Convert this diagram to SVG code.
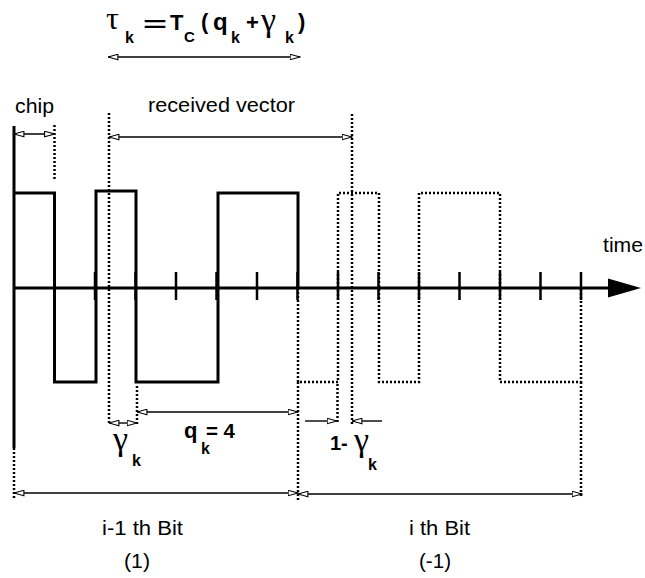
<svg xmlns="http://www.w3.org/2000/svg" width="645" height="578" viewBox="0 0 645 578">
<style>
.wave{fill:none;stroke:#000;stroke-width:3;stroke-linejoin:miter}
.dot{fill:none;stroke:#000;stroke-width:2.5;stroke-dasharray:2 2}
.arr{fill:none;stroke:#000;stroke-width:1.4;marker-start:url(#ah);marker-end:url(#ah)}
.arr1{fill:none;stroke:#000;stroke-width:1.4;marker-end:url(#ah)}
.t{font-family:"Liberation Sans",Arial,sans-serif;font-size:20px;fill:#000}
.b{font-family:"Liberation Sans",Arial,sans-serif;font-weight:bold;fill:#000}
.g{font-family:"Liberation Serif","Times New Roman",serif;fill:#000}
</style>
<defs>
<marker id="ah" viewBox="0 0 11 7" markerWidth="11" markerHeight="7" refX="10.5" refY="3.5" orient="auto-start-reverse" markerUnits="userSpaceOnUse">
<path d="M0.6,0.8 L10.5,3.5 L0.6,6.2 z" fill="#fff" stroke="#000" stroke-width="1.1"/>
</marker>
</defs>

<g id="title">
<text class="g" x="106" y="29" font-size="32">τ</text>
<text class="b" x="125" y="43" font-size="16">k</text>
<text class="b" x="143" y="31" font-size="21" textLength="24" lengthAdjust="spacingAndGlyphs">=</text>
<text class="b" x="170" y="30" font-size="22">T</text>
<text class="b" x="184" y="42" font-size="15">C</text>
<text class="b" x="201" y="29" font-size="22">(</text>
<text class="b" x="213" y="30" font-size="24">q</text>
<text class="b" x="231" y="43" font-size="16">k</text>
<text class="b" x="246" y="30" font-size="22">+</text>
<text class="g" x="261" y="31" font-size="34">γ</text>
<text class="b" x="285" y="43" font-size="16">k</text>
<text class="b" x="298" y="29" font-size="22">)</text>
</g>

<g id="labels">
<text class="t" x="15" y="112.5" textLength="39" lengthAdjust="spacingAndGlyphs">chip</text>
<text class="t" x="148" y="112" textLength="147" lengthAdjust="spacingAndGlyphs">received vector</text>
<text class="t" x="603" y="251.5" textLength="40" lengthAdjust="spacingAndGlyphs">time</text>
<text class="t" x="102" y="535" textLength="81" lengthAdjust="spacingAndGlyphs">i-1 th Bit</text>
<text class="t" x="124" y="568" textLength="26" lengthAdjust="spacingAndGlyphs">(1)</text>
<text class="t" x="409" y="535" textLength="61" lengthAdjust="spacingAndGlyphs">i th Bit</text>
<text class="t" x="419" y="568" textLength="32" lengthAdjust="spacingAndGlyphs">(-1)</text>
<text class="g" x="113" y="450" font-size="34">γ</text>
<text class="b" x="132" y="466" font-size="16">k</text>
<text class="b" x="184" y="438" font-size="22">q</text>
<text class="b" x="201" y="454" font-size="16">k</text>
<text class="b" x="206" y="438" font-size="21" textLength="29" lengthAdjust="spacingAndGlyphs">= 4</text>
<text class="b" x="330" y="450" font-size="20">1-</text>
<text class="g" x="354" y="451" font-size="34">γ</text>
<text class="b" x="368" y="470" font-size="16">k</text>
</g>

<g id="axis">
<line x1="14" y1="288" x2="612" y2="288" stroke="#000" stroke-width="3"/>
<polygon points="608,278.5 641,288 608,297.5" fill="#000"/>
<path d="M54.5,272V300 M95,272V300 M135.5,272V300 M176,272V300 M216.5,272V300 M257,272V300 M297.5,272V300 M338,272V300 M378.5,272V300 M419,272V300 M459.5,272V300 M500,272V300 M540.5,272V300 M581,272V300" stroke="#000" stroke-width="2.5"/>
</g>

<g id="waveform-prev">
<line x1="14" y1="126" x2="14" y2="448" stroke="#000" stroke-width="3"/>
<path class="wave" d="M14,193 H54.5 V382 H96 V191 H136 V382 H218 V193 H298 V288"/>
</g>

<g id="waveform-curr">
<path class="dot" d="M298,288 V382 H338 V193 H379 V382 H419 V193 H500 V382 H581 V288"/>
</g>

<g id="guides">
<path class="dot" d="M14,448 V500 M54.5,125 V181 M109,113 V424 M352,114 V424 M137,386 V424 M337.5,384 V422 M298,382 V500 M581,382 V498"/>
</g>

<g id="connectors">
<line class="arr" x1="108" y1="57" x2="300" y2="57"/>
<line class="arr" x1="14" y1="134" x2="54.5" y2="134"/>
<line class="arr" x1="109" y1="137" x2="352" y2="137"/>
<line class="arr" x1="109" y1="423" x2="137" y2="423"/>
<line class="arr" x1="137" y1="412" x2="298" y2="412"/>
<line class="arr1" x1="305" y1="421" x2="337" y2="421"/>
<line class="arr1" x1="382" y1="421" x2="352" y2="421"/>
<line class="arr" x1="14" y1="493" x2="298" y2="493"/>
<line class="arr" x1="298" y1="494" x2="582" y2="494"/>
</g>
</svg>
